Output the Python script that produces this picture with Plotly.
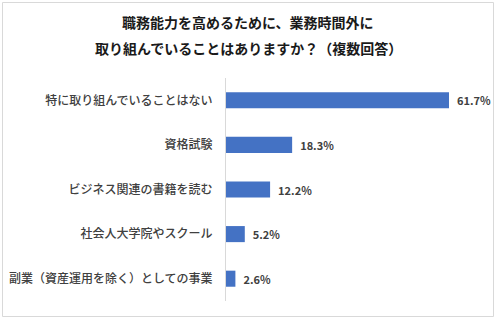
import plotly.graph_objects as go

categories = [
    "特に取り組んでいることはない",
    "資格試験",
    "ビジネス関連の書籍を読む",
    "社会人大学院やスクール",
    "副業（資産運用を除く）としての事業",
]
values = [61.7, 18.3, 12.2, 5.2, 2.6]
value_labels = [f"{v:.1f}%" for v in values]
title_lines = ["職務能力を高めるために、業務時間外に", "取り組んでいることはありますか？（複数回答）"]

W, H = 496, 319
ML, MR, MT, MB = 226, 17, 78, 18
PW, PH = W - ML - MR, H - MT - MB

FONT = "Noto Sans CJK JP"

fig = go.Figure(go.Bar(
    y=categories,
    x=values,
    orientation="h",
    marker=dict(color="#4472C4", line=dict(width=0)),
    text=["  " + t for t in value_labels],
    textposition="outside",
    textfont=dict(family=FONT, size=11, color="#404040", weight="bold"),
    cliponaxis=False,
    width=0.36,
))

fig.update_layout(
    width=W, height=H,
    margin=dict(l=ML, r=MR, t=MT, b=MB, autoexpand=False),
    paper_bgcolor="white", plot_bgcolor="white",
    showlegend=False,
    xaxis=dict(range=[0, 70], visible=False, fixedrange=True, automargin=False),
    yaxis=dict(
        autorange="reversed", automargin=False,
        showline=True, linecolor="#D9D9D9", linewidth=1,
        showgrid=False, zeroline=False,
        ticks="", ticklabelstandoff=10,
        tickfont=dict(family=FONT, size=12, color="#404040", weight=500),
    ),
)

for i, (line, ypx) in enumerate(zip(title_lines, [22, 48])):
    fig.add_annotation(
        text=line, xref="paper", yref="paper",
        x=(W / 2 - ML) / PW, y=(H - MB - ypx) / PH,
        xanchor="center", yanchor="middle", showarrow=False,
        font=dict(family=FONT, size=14, color="#1a1a1a", weight="bold"),
    )

# outer border
fig.add_shape(
    type="rect", xref="paper", yref="paper",
    x0=(2.5 - ML) / PW, x1=(493.5 - ML) / PW,
    y0=(H - MB - 316.5) / PH, y1=(H - MB - 2.5) / PH,
    line=dict(color="#D9D9D9", width=1), fillcolor="rgba(0,0,0,0)",
)

fig.write_html("out.html")
